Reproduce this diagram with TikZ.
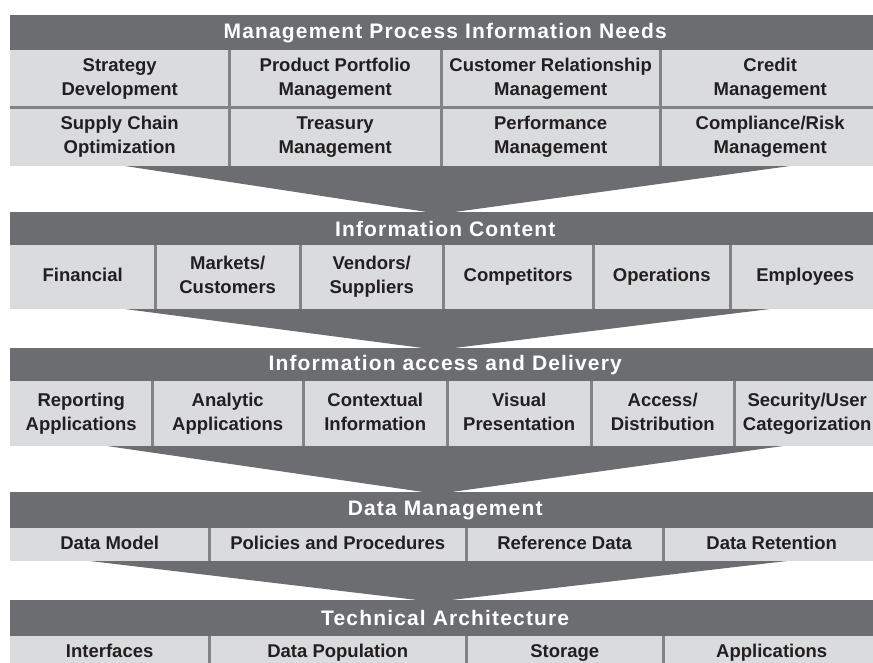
\documentclass[tikz,border=0pt]{standalone}
\usepackage{fontspec}
\setmainfont{Liberation Sans}
\newfontfamily\headfam{Liberation Sans}[LetterSpace=5.5]
\usetikzlibrary{positioning}
\definecolor{cHead}{RGB}{108,109,113}
\definecolor{cCell}{RGB}{218,219,221}
\definecolor{cDiv} {RGB}{130,131,134}
\definecolor{cText}{RGB}{35,31,32}
\newcommand{\cellup}{\rule{0pt}{13pt}}
\newcommand{\celldn}{\rule[-4pt]{0pt}{4pt}}
\tikzset{
  head/.style={fill=cHead,text=white,minimum width=870pt,inner sep=0pt,
               anchor=north west,font=\headfam\bfseries\fontsize{21}{24}\selectfont},
  cell/.style={fill=cCell,text=cText,inner sep=0pt,align=center,anchor=north west,
               font=\bfseries\fontsize{18.5}{24}\selectfont,
               execute at begin node=\cellup,execute at end node=\celldn},
  rowA/.style={cell,minimum height=57pt},
  rowB/.style={cell,minimum height=59pt},
  rowC/.style={cell,minimum height=64pt},
  rowD/.style={cell,minimum height=65pt},
  rowE/.style={cell,minimum height=33pt},
  divline/.style={cDiv,line width=2.5pt},
  funnel/.style={fill=cHead},
}

\begin{document}
\begin{tikzpicture}[x=1pt,y=-1pt]
  \path[use as bounding box,clip] (0,0) rectangle (873,662);
  % funnels
  \coordinate (f1a) at (125,166); \coordinate (f1b) at (790,166); \coordinate (f1c) at (440,214);
  \coordinate (f2a) at (125,309); \coordinate (f2b) at (770,309); \coordinate (f2c) at (438,350);
  \coordinate (f3a) at (107,446); \coordinate (f3b) at (783,446); \coordinate (f3c) at (437,494);
  \coordinate (f4a) at (90,561);  \coordinate (f4b) at (787,561); \coordinate (f4c) at (434,602);
  \fill[funnel] (f1a) -- (f1b) -- (f1c) -- cycle;
  \fill[funnel] (f2a) -- (f2b) -- (f2c) -- cycle;
  \fill[funnel] (f3a) -- (f3b) -- (f3c) -- cycle;
  \fill[funnel] (f4a) -- (f4b) -- (f4c) -- cycle;

  % management process information needs
  \node[head,minimum height=35pt] (h1) at (10,15) {Management Process Information Needs};
  \node[rowA,minimum width=219pt] (m1) at (10,50)  {Strategy\\Development};
  \node[rowA,minimum width=212pt] (m2) at (229,50) {Product Portfolio\\Management};
  \node[rowA,minimum width=219pt] (m3) at (441,50) {Customer Relationship\\Management};
  \node[rowA,minimum width=220pt] (m4) at (660,50) {Credit\\Management};
  \node[rowB,minimum width=219pt] (m5) at (10,107)  {Supply Chain\\Optimization};
  \node[rowB,minimum width=212pt] (m6) at (229,107) {Treasury\\Management};
  \node[rowB,minimum width=219pt] (m7) at (441,107) {Performance\\Management};
  \node[rowB,minimum width=220pt] (m8) at (660,107) {Compliance/Risk\\Management};
  \draw[divline] (m1.south west) -- (m4.south east);
  \foreach \c in {m1,m2,m3,m5,m6,m7}
    \draw[divline] (\c.north east) -- (\c.south east);

  % information content
  \node[head,minimum height=33pt] (h2) at (10,212) {Information Content};
  \node[rowC,minimum width=145pt] (c1) at (10,245)  {Financial};
  \node[rowC,minimum width=145pt] (c2) at (155,245) {Markets/\\Customers};
  \node[rowC,minimum width=143pt] (c3) at (300,245) {Vendors/\\Suppliers};
  \node[rowC,minimum width=150pt] (c4) at (443,245) {Competitors};
  \node[rowC,minimum width=137pt] (c5) at (593,245) {Operations};
  \node[rowC,minimum width=150pt] (c6) at (730,245) {Employees};
  \foreach \c in {c1,c2,c3,c4,c5}
    \draw[divline] (\c.north east) -- (\c.south east);

  % information access and delivery
  \node[head,minimum height=33pt] (h3) at (10,348) {Information access and Delivery};
  \node[rowD,minimum width=142pt] (d1) at (10,381)  {Reporting\\Applications};
  \node[rowD,minimum width=151pt] (d2) at (152,381) {Analytic\\Applications};
  \node[rowD,minimum width=144pt] (d3) at (303,381) {Contextual\\Information};
  \node[rowD,minimum width=144pt] (d4) at (447,381) {Visual\\Presentation};
  \node[rowD,minimum width=143pt] (d5) at (591,381) {Access/\\Distribution};
  \node[rowD,minimum width=146pt] (d6) at (734,381) {Security/User\\Categorization};
  \foreach \c in {d1,d2,d3,d4,d5}
    \draw[divline] (\c.north east) -- (\c.south east);

  % data management
  \node[head,minimum height=36pt] (h4) at (10,492) {Data Management};
  \node[rowE,minimum width=199pt] (g1) at (10,528)  {Data Model};
  \node[rowE,minimum width=257pt] (g2) at (209,528) {Policies and Procedures};
  \node[rowE,minimum width=197pt] (g3) at (466,528) {Reference Data};
  \node[rowE,minimum width=217pt] (g4) at (663,528) {Data Retention};
  \foreach \c in {g1,g2,g3}
    \draw[divline] (\c.north east) -- (\c.south east);

  % technical architecture
  \node[head,minimum height=36pt] (h5) at (10,600) {Technical Architecture};
  \node[rowE,minimum width=199pt] (t1) at (10,636)  {Interfaces};
  \node[rowE,minimum width=257pt] (t2) at (209,636) {Data Population};
  \node[rowE,minimum width=197pt] (t3) at (466,636) {Storage};
  \node[rowE,minimum width=217pt] (t4) at (663,636) {Applications};
  \foreach \c in {t1,t2,t3}
    \draw[divline] (\c.north east) -- (\c.south east);
\end{tikzpicture}
\end{document}
